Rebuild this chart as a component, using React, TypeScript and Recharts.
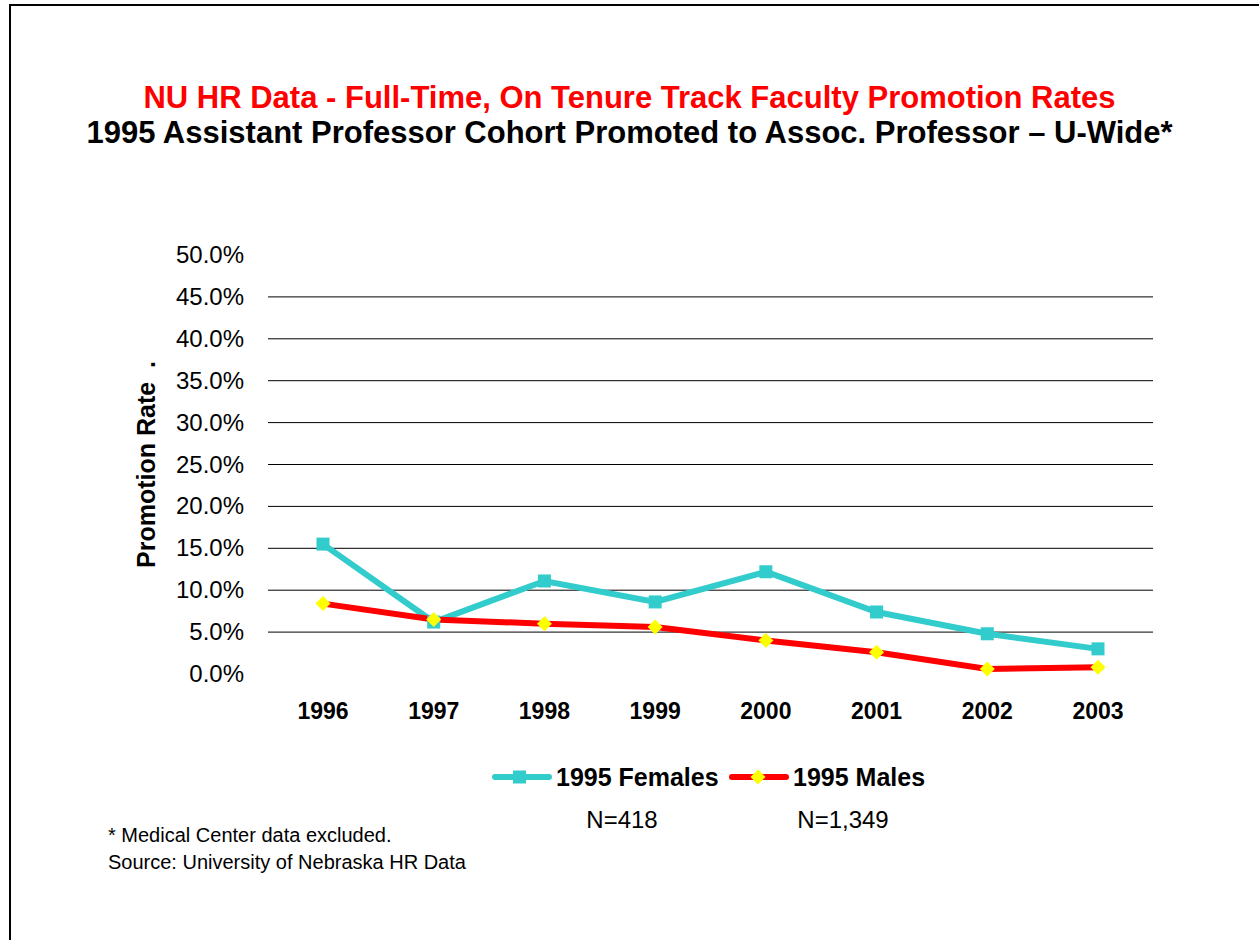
import React from 'react';
import { LineChart, Line, XAxis, YAxis, CartesianGrid, Legend } from 'recharts';

const years = ['1996', '1997', '1998', '1999', '2000', '2001', '2002', '2003'];
const females = [15.5, 6.2, 11.1, 8.6, 12.2, 7.4, 4.8, 3.0];
const males = [8.4, 6.5, 6.0, 5.6, 4.0, 2.6, 0.6, 0.8];
const yTicks = [0, 5, 10, 15, 20, 25, 30, 35, 40, 45, 50];
const gridValues = [5, 10, 15, 20, 25, 30, 35, 40, 45];
const seriesNames = ['1995 Females', '1995 Males'];
const seriesCounts = ['N=418', 'N=1,349'];

const data = years.map((y, i) => ({ year: y, females: females[i], males: males[i] }));

const FONT = 'Arial, "Liberation Sans", sans-serif';
const TEAL = '#33CCCC';
const RED = '#FF0000';
const YELLOW = '#FFFF00';

const SquareDot = (props: any) => {
  const { cx, cy } = props;
  if (cx == null || cy == null) return null;
  return <rect x={cx - 6.5} y={cy - 6.5} width={13} height={13} fill={TEAL} />;
};

const DiamondDot = (props: any) => {
  const { cx, cy } = props;
  if (cx == null || cy == null) return null;
  return (
    <polygon
      points={`${cx},${cy - 7.5} ${cx + 7.5},${cy} ${cx},${cy + 7.5} ${cx - 7.5},${cy}`}
      fill={YELLOW}
    />
  );
};

const YTick = (props: any) => {
  const { x, y, payload } = props;
  return (
    <text x={x - 16} y={y} dy={8} textAnchor="end" fontFamily={FONT} fontSize={24} fill="#000">
      {payload.value.toFixed(1)}%
    </text>
  );
};

const XTick = (props: any) => {
  const { x, y, payload } = props;
  return (
    <text x={x} y={y} dy={37} textAnchor="middle" fontFamily={FONT} fontSize={23} fontWeight="bold" fill="#000">
      {payload.value}
    </text>
  );
};

const renderLegend = () => {
  return (
    <div style={{ position: 'relative', width: 1259, height: 80, fontFamily: FONT }}>
      <svg width={1259} height={80} style={{ position: 'absolute', left: 0, top: 0 }}>
        <line x1={495} y1={17} x2={549} y2={17} stroke={TEAL} strokeWidth={6} strokeLinecap="round" />
        <rect x={513} y={10.5} width={13} height={13} fill={TEAL} />
        <text x={556} y={26} fontFamily={FONT} fontSize={25} fontWeight="bold" fill="#000">
          {seriesNames[0]}
        </text>
        <line x1={732} y1={17} x2={786} y2={17} stroke={RED} strokeWidth={6} strokeLinecap="round" />
        <polygon points="758,9.5 765.5,17 758,24.5 750.5,17" fill={YELLOW} />
        <text x={793} y={26} fontFamily={FONT} fontSize={25} fontWeight="bold" fill="#000">
          {seriesNames[1]}
        </text>
        <text x={622} y={68} textAnchor="middle" fontFamily={FONT} fontSize={24} fill="#000">
          {seriesCounts[0]}
        </text>
        <text x={843} y={68} textAnchor="middle" fontFamily={FONT} fontSize={24} fill="#000">
          {seriesCounts[1]}
        </text>
      </svg>
    </div>
  );
};

export default function App() {
  return (
    <div style={{ position: 'absolute', left: 0, top: 0, width: 1259, height: 940, background: '#fff', overflow: 'hidden', fontFamily: FONT }}>
      <div style={{ position: 'absolute', left: 9, top: 4, width: 1260, height: 950, border: '2px solid #000', boxSizing: 'border-box' }} />
      <div style={{ position: 'absolute', left: 0, top: 80, width: 1259, textAlign: 'center', color: RED, fontWeight: 'bold', fontSize: 31, lineHeight: '36px', whiteSpace: 'nowrap' }}>
        NU HR Data - Full-Time, On Tenure Track Faculty Promotion Rates
      </div>
      <div style={{ position: 'absolute', left: 0, top: 115, width: 1259, textAlign: 'center', color: '#000', fontWeight: 'bold', fontSize: 31, lineHeight: '36px', whiteSpace: 'nowrap' }}>
        1995 Assistant Professor Cohort Promoted to Assoc. Professor – U-Wide*
      </div>
      <div style={{ position: 'absolute', left: 0, top: 0 }}>
        <LineChart width={1259} height={940} data={data} margin={{ top: 255, right: 106, bottom: 206, left: 168 }}>
          <CartesianGrid vertical={false} horizontalValues={gridValues} stroke="#000" strokeWidth={1} />
          <XAxis dataKey="year" axisLine={false} tickLine={false} tick={<XTick />} height={60} interval={0} padding={{ left: 55, right: 55 }} />
          <YAxis
            domain={[0, 50]}
            ticks={yTicks}
            axisLine={false}
            tickLine={false}
            tick={<YTick />}
            width={100}
            interval={0}
            label={{
              value: 'Promotion Rate\u00a0\u00a0.',
              angle: -90,
              position: 'insideLeft',
              offset: -22,
              style: { fontFamily: FONT, fontSize: 25, fontWeight: 'bold', fill: '#000', textAnchor: 'middle' },
            }}
          />
          <Legend layout="horizontal" verticalAlign="middle" align="center" wrapperStyle={{ top: 760, left: 0, width: 1259 }} content={renderLegend} />
          <Line type="linear" dataKey="females" name={seriesNames[0]} stroke={TEAL} strokeWidth={6} dot={<SquareDot />} activeDot={false} isAnimationActive={false} />
          <Line type="linear" dataKey="males" name={seriesNames[1]} stroke={RED} strokeWidth={6} dot={<DiamondDot />} activeDot={false} isAnimationActive={false} />
        </LineChart>
      </div>
      <div style={{ position: 'absolute', left: 108, top: 822, fontSize: 20, lineHeight: '27px', color: '#000' }}>
        <div>* Medical Center data excluded.</div>
        <div>Source: University of Nebraska HR Data</div>
      </div>
    </div>
  );
}
